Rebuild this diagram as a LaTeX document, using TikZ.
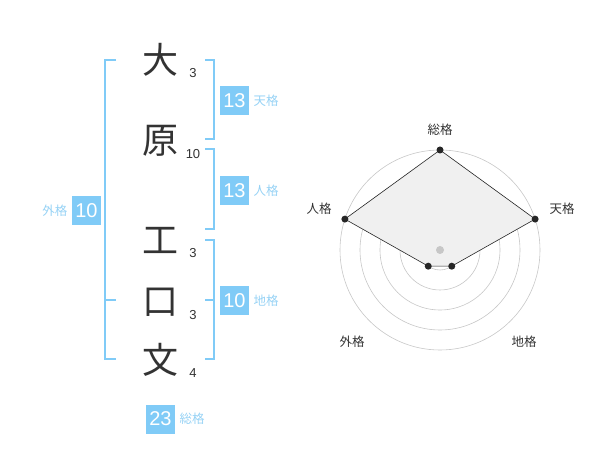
\documentclass[tikz,border=0pt]{standalone}
\usepackage{fontspec}
\setmainfont{Liberation Sans}
\newfontfamily\cjk{Noto Sans CJK JP}
\usepackage{tikz}
\usetikzlibrary{calc}
\definecolor{kakublue}{HTML}{80CBF7}
\definecolor{kakutext}{HTML}{96D2F5}
\tikzset{
	kanji/.style={font=\cjk\fontsize{36}{36}\selectfont,text=black!80},
	kakusu/.style={font=\fontsize{13}{13}\selectfont,text=black!80},
	bracket/.style={draw=kakublue,line width=2pt},
	numbox/.style={fill=kakublue,text=white,minimum size=29pt,inner sep=0pt,font=\fontsize{20}{20}\selectfont},
	kakuname/.style={font=\cjk\fontsize{12.5}{12.5}\selectfont,text=kakutext},
	radarname/.style={font=\cjk\fontsize{12.5}{12.5}\selectfont,text=black!80}
}
\begin{document}
\begin{tikzpicture}[x=1pt,y=-1pt]
	\useasboundingbox (0,0) rectangle (600,470);
	%名前と画数
	\foreach \c/\y/\k [count=\i] in {大/60/3,原/141/10,工/240/3,口/302/3,文/360/4}{
		\node[kanji] (c\i) at (160,\y) {\c};
		\node[kakusu] (k\i) at (193,\y+13) {\k};
	}
	%括弧
	\draw[bracket] (116,60) -| (105,359) -- (116,359); %外格
	\draw[bracket] (105,300) -- (116,300);
	\draw[bracket] (205,60) -| (214,139) -- (205,139); %天格
	\draw[bracket] (205,149) -| (214,229) -- (205,229); %人格
	\draw[bracket] (205,240) -| (214,359) -- (205,359); %地格
	\draw[bracket] (214,300) -- (205,300);
	%各格の数
	\node[numbox] (ten) at (234.5,100.5) {13};
	\node[kakuname,right=1pt] (tenl) at (ten.east) {天格};
	\node[numbox] (jin) at (234.5,190.5) {13};
	\node[kakuname,right=1pt] (jinl) at (jin.east) {人格};
	\node[numbox] (chi) at (234.5,300.5) {10};
	\node[kakuname,right=1pt] (chil) at (chi.east) {地格};
	\node[numbox] (gai) at (86.5,210.5) {10};
	\node[kakuname,left=1pt] (gail) at (gai.west) {外格};
	\node[numbox] (sou) at (160.5,419) {23};
	\node[kakuname,right=1pt] (soul) at (sou.east) {総格};
	%レーダーチャート (y軸が下向きなので角度は負)
	\coordinate (o) at (440,250);
	\foreach \r in {20,40,60,80,100}{
		\draw[black!22,line width=0.6pt] (o) circle (\r);
	}
	\foreach \n/\a/\v in {rs/-90/100,rt/-18/100,rc/54/20,rg/126/20,rj/-162/100}{
		\coordinate (\n) at ($(o)+(\a:\v)$);
	}
	\filldraw[fill=black!6,draw=black!85,line width=0.6pt] (rs) -- (rt) -- (rc) -- (rg) -- (rj) -- cycle;
	\fill[black!22] (o) circle (4);
	\foreach \n in {rs,rt,rc,rg,rj}{
		\fill[black!85] (\n) circle (3.5);
	}
	\node[radarname] (lsou) at (440,130) {総格};
	\node[radarname] (lten) at (562,209) {天格};
	\node[radarname] (lchi) at (524,342) {地格};
	\node[radarname] (lgai) at (352,342) {外格};
	\node[radarname] (ljin) at (319,209) {人格};
\end{tikzpicture}
\end{document}
